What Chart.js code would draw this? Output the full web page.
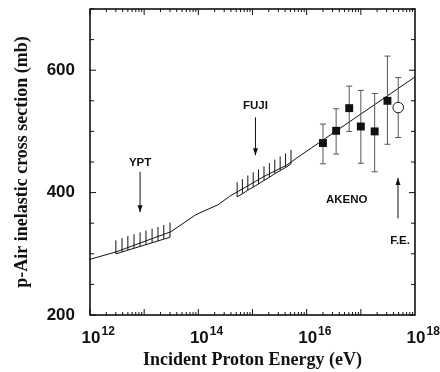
<!DOCTYPE html>
<html>
<head>
<meta charset="utf-8">
<script src="https://cdn.jsdelivr.net/npm/chart.js@4.4.1/dist/chart.umd.min.js"></script>
<style>
    html, body { margin: 0; padding: 0; background: #fff; }
</style>
</head>
<body>
<canvas id="ctx" width="440" height="372"></canvas>
<script>
// model curve, energy in eV, sigma in mb
const curveE = [1e12, 3e12, 3.1e13, 8.7e13, 1.07e14, 2.3e14, 3.8e14, 1.6e15, 4.3e15, 7.2e15, 1e18]
const curveSigma = [291, 303, 336, 363, 367, 380, 394, 426, 445, 459, 589]

// YPT hatched band
const yptE = [3.0e12, 3.9e12, 5.0e12, 6.5e12, 8.4e12, 1.08e13, 1.4e13, 1.8e13, 2.3e13, 3.0e13]
const yptLow = [300, 303, 306, 309, 312, 315, 318, 321, 324, 327]
const yptHigh = [322, 326, 329, 332, 335, 338, 341, 344, 347, 351]

// FUJI hatched band
const fujiE = [5.2e14, 6.5e14, 8.2e14, 1.03e15, 1.29e15, 1.63e15, 2.05e15, 2.58e15, 3.24e15, 4.08e15, 5.14e15]
const fujiLow = [393, 398, 404, 409, 414, 420, 425, 431, 436, 441, 447]
const fujiHigh = [417, 422, 428, 433, 438, 443, 448, 454, 459, 464, 470]

// AKENO points with errors
const akenoE = [2.0e16, 3.5e16, 6.1e16, 1.0e17, 1.8e17, 3.1e17]
const akenoSigma = [481, 501, 538, 508, 500, 550]
const akenoLow = [447, 463, 500, 448, 434, 479]
const akenoHigh = [512, 537, 574, 567, 562, 623]

// F.E. point
const feE = [4.9e17]
const feSigma = [539]
const feLow = [490]
const feHigh = [588]

// axis ticks
const xTickValues = [1e12, 1e14, 1e16, 1e18]
const xTickExponents = ['12', '14', '16', '18']
const yTickValues = [200, 400, 600]

// text labels and arrows (data coordinates)
const notes = [
    {text: 'YPT', x: 8.4e12, y: 448},
    {text: 'FUJI', x: 1.135e15, y: 541},
    {text: 'AKENO', x: 5.5e16, y: 389},
    {text: 'F.E.', x: 5.3e17, y: 322}
]
const arrows = [
    {x: 8.4e12, from: 434, to: 368},
    {x: 1.135e15, from: 523, to: 461},
    {x: 4.85e17, from: 358, to: 424}
]

const sansFont = '"Liberation Sans", Arial, sans-serif'
const serifFont = '"Liberation Serif", "Times New Roman", serif'

const bandPoints = (E, low, high) => {
    let pts = E.map((e, i) => ({x: e, y: low[i]}))
    pts.push({x: E[0], y: null})
    E.forEach((e, i) => {
        pts.push({x: e, y: low[i]})
        pts.push({x: e, y: high[i]})
        pts.push({x: e, y: null})
    })
    return pts
}

const errorPoints = (E, low, high) => {
    let pts = []
    E.forEach((e, i) => {
        pts.push({x: e, y: low[i]})
        pts.push({x: e, y: high[i]})
        pts.push({x: e, y: null})
    })
    return pts
}

const framePlugin = {
    id: 'frame',
    afterDatasetsDraw(chart) {
        const {ctx, chartArea: {left, right, top, bottom}, scales: {x, y}} = chart
        ctx.save()
        ctx.strokeStyle = '#111'
        ctx.lineWidth = 1.6
        ctx.strokeRect(left, top, right - left, bottom - top)

        // inward tick marks
        ctx.lineWidth = 1
        ctx.beginPath()
        for (let v = 200; v <= 700; v += 50) {
            const py = y.getPixelForValue(v)
            const len = yTickValues.includes(v) ? 6 : 4
            ctx.moveTo(left, py); ctx.lineTo(left + len, py)
            ctx.moveTo(right, py); ctx.lineTo(right - len, py)
        }
        for (let d = 12; d < 18; d++) {
            for (let m = 1; m <= 9; m++) {
                const px = x.getPixelForValue(m * Math.pow(10, d))
                const len = m == 1 ? 6 : 3
                ctx.moveTo(px, bottom); ctx.lineTo(px, bottom - len)
                ctx.moveTo(px, top); ctx.lineTo(px, top + len)
            }
        }
        ctx.stroke()

        // x tick labels 10^n
        ctx.fillStyle = '#111'
        ctx.textBaseline = 'alphabetic'
        xTickValues.forEach((v, i) => {
            const px = x.getPixelForValue(v) + 1
            ctx.font = 'bold 17px ' + sansFont
            ctx.textAlign = 'center'
            ctx.fillText('10', px, 343)
            const w = ctx.measureText('10').width
            ctx.font = 'bold 12px ' + sansFont
            ctx.textAlign = 'left'
            ctx.fillText(xTickExponents[i], px + w / 2 + 1, 335)
        })

        // labels
        ctx.font = 'bold 11.5px ' + sansFont
        ctx.textAlign = 'center'
        ctx.textBaseline = 'middle'
        notes.forEach(n => {
            ctx.fillText(n.text, x.getPixelForValue(n.x), y.getPixelForValue(n.y))
        })

        // arrows
        arrows.forEach(a => {
            const px = x.getPixelForValue(a.x)
            const y1 = y.getPixelForValue(a.from)
            const y2 = y.getPixelForValue(a.to)
            const dir = y2 > y1 ? 1 : -1
            ctx.beginPath()
            ctx.moveTo(px, y1)
            ctx.lineTo(px, y2)
            ctx.stroke()
            ctx.beginPath()
            ctx.moveTo(px, y2)
            ctx.lineTo(px - 2.5, y2 - dir * 7)
            ctx.lineTo(px + 2.5, y2 - dir * 7)
            ctx.closePath()
            ctx.fill()
        })
        ctx.restore()
    }
}

const config = {
    type: 'scatter',
    data: {
        datasets: [
            {
                label: 'F.E.',
                data: feE.map((e, i) => ({x: e, y: feSigma[i]})),
                pointStyle: 'circle',
                pointRadius: 5.3,
                pointBackgroundColor: '#fff',
                pointBorderColor: '#111',
                pointBorderWidth: 1
            },
            {
                label: 'AKENO',
                data: akenoE.map((e, i) => ({x: e, y: akenoSigma[i]})),
                pointStyle: 'rect',
                pointRadius: 5.6,
                pointBackgroundColor: '#111',
                pointBorderColor: '#111',
                pointBorderWidth: 0
            },
            {
                label: 'errors',
                data: errorPoints(akenoE.concat(feE), akenoLow.concat(feLow), akenoHigh.concat(feHigh)),
                showLine: true,
                borderColor: '#555',
                borderWidth: 1,
                pointStyle: 'line',
                pointRadius: 3,
                pointBorderColor: '#555',
                pointBorderWidth: 1
            },
            {
                label: 'YPT',
                data: bandPoints(yptE, yptLow, yptHigh),
                showLine: true,
                borderColor: '#111',
                borderWidth: 1,
                pointRadius: 0
            },
            {
                label: 'FUJI',
                data: bandPoints(fujiE, fujiLow, fujiHigh),
                showLine: true,
                borderColor: '#111',
                borderWidth: 1,
                pointRadius: 0
            },
            {
                label: 'model',
                data: curveE.map((e, i) => ({x: e, y: curveSigma[i]})),
                showLine: true,
                borderColor: '#111',
                borderWidth: 1,
                pointRadius: 0
            }
        ]
    },
    options: {
        responsive: false,
        animation: false,
        layout: {
            padding: {left: 8, right: 25, top: 9, bottom: 0}
        },
        plugins: {
            legend: {display: false},
            tooltip: {enabled: false}
        },
        scales: {
            x: {
                type: 'logarithmic',
                min: 1e12,
                max: 1e18,
                grid: {display: false, drawTicks: false},
                border: {display: false},
                ticks: {display: false},
                title: {
                    display: true,
                    text: 'Incident Proton Energy (eV)',
                    color: '#111',
                    font: {family: serifFont, size: 18, weight: 'bold'},
                    padding: {top: 0, bottom: 1}
                },
                afterFit: (scale) => { scale.height = 57 }
            },
            y: {
                type: 'linear',
                min: 200,
                max: 700,
                grid: {display: false, drawTicks: false},
                border: {display: false},
                afterBuildTicks: (scale) => {
                    scale.ticks = yTickValues.map(v => ({value: v}))
                },
                ticks: {
                    color: '#111',
                    padding: 15,
                    font: {family: sansFont, size: 17, weight: 'bold'}
                },
                title: {
                    display: true,
                    text: 'p-Air inelastic cross section (mb)',
                    color: '#111',
                    font: {family: serifFont, size: 18, weight: 'bold'},
                    padding: {top: 4, bottom: 0}
                },
                afterFit: (scale) => {
                    scale.width = 82
                    // labels never sit at the very top, no extra room needed
                    scale.paddingTop = 0
                    scale.paddingBottom = 0
                }
            }
        }
    },
    plugins: [framePlugin]
}

const myChart = new Chart(document.getElementById('ctx').getContext('2d'), config)
</script>
</body>
</html>
